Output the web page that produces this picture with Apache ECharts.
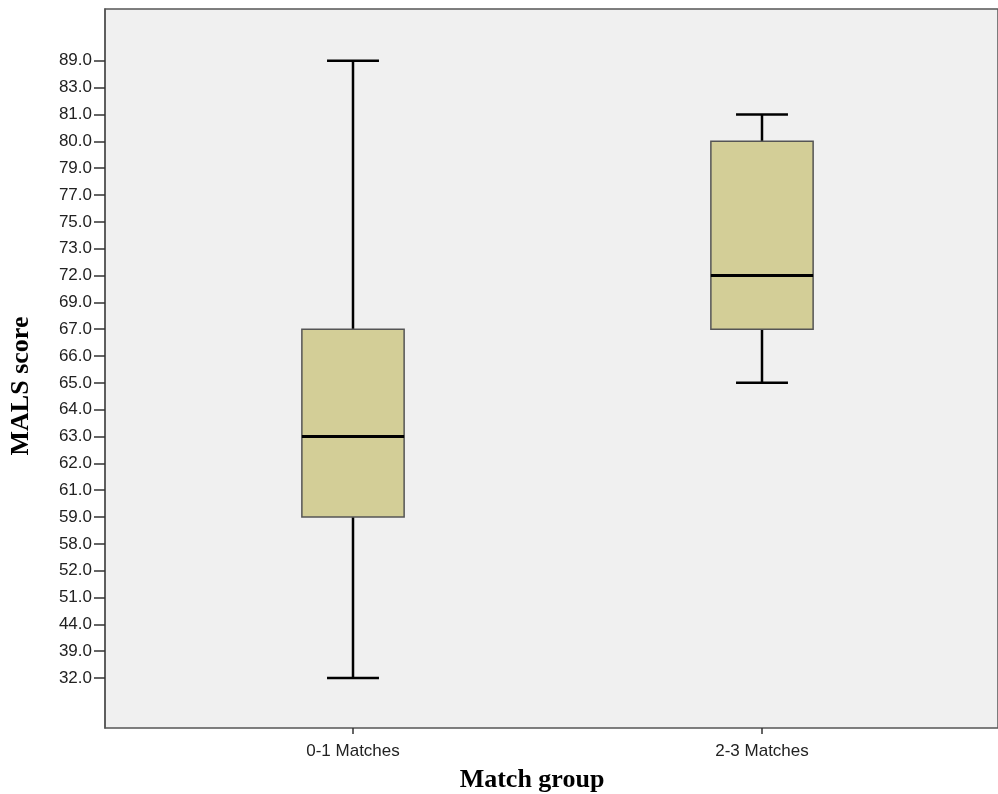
<!DOCTYPE html>
<html><head><meta charset="utf-8">
<script src="https://cdn.jsdelivr.net/npm/echarts@6/dist/echarts.min.js"></script>
<style>html,body{margin:0;padding:0;background:#fff}#c{width:998px;height:794px}</style>
</head><body><div id="c"></div>
<script>
// Ordinal tick labels of the y axis, bottom to top
const yTickValues = [32, 39, 44, 51, 52, 58, 59, 61, 62, 63, 64, 65, 66, 67, 69, 72, 73, 75, 77, 79, 80, 81, 83, 89];
const categories = ['0-1 Matches', '2-3 Matches'];
// [min, Q1, median, Q3, max]
const group01 = [32, 59, 63, 67, 89];
const group23 = [65, 67, 72, 80, 81];
const yTitle = 'MALS score';
const xTitle = 'Match group';

const rank = v => yTickValues.indexOf(v);
const boxData = [group01, group23].map((g, i) => [i].concat(g.map(rank)));

const Y_MIN = -1.86, Y_MAX = 24.93;
const idx = yTickValues.map((_, i) => i);

const chart = echarts.init(document.getElementById('c'));
chart.setOption({
  animation: false,
  grid: [
    {left: 105, top: 9, right: 0, bottom: 66, show: true, backgroundColor: '#f0f0f0', borderColor: '#555', borderWidth: 1.5},
    {left: 148.5, top: 9, width: 818, bottom: 66, show: false}
  ],
  xAxis: [
    {gridIndex: 0, type: 'value', show: false, min: 0, max: 1},
    {gridIndex: 1, type: 'category', data: categories, boundaryGap: true, position: 'bottom',
     axisLine: {show: false, onZero: false},
     axisTick: {show: true, alignWithLabel: true, length: 6, lineStyle: {color: '#333', width: 1.5}},
     axisLabel: {color: '#222', fontSize: 17, fontFamily: 'Liberation Sans, Arial', margin: 15}}
  ],
  yAxis: [
    {gridIndex: 0, type: 'value', min: Y_MIN, max: Y_MAX,
     axisLine: {show: true, lineStyle: {color: '#555', width: 1.5}},
     axisTick: {show: true, customValues: idx, length: 11, lineStyle: {color: '#333', width: 1.5}},
     axisLabel: {customValues: idx, color: '#222', fontSize: 17, fontFamily: 'Liberation Sans, Arial', margin: 13,
       formatter: v => yTickValues[Math.round(v)].toFixed(1)},
     splitLine: {show: false}},
    {gridIndex: 1, type: 'value', min: Y_MIN, max: Y_MAX, show: false, splitLine: {show: false}}
  ],
  series: [{
    type: 'custom', xAxisIndex: 1, yAxisIndex: 1,
    data: boxData,
    encode: {x: 0, y: [1, 2, 3, 4, 5]},
    renderItem: function (params, api) {
      const x = api.value(0);
      const pMin = api.coord([x, api.value(1)]);
      const pQ1 = api.coord([x, api.value(2)]);
      const pMed = api.coord([x, api.value(3)]);
      const pQ3 = api.coord([x, api.value(4)]);
      const pMax = api.coord([x, api.value(5)]);
      const band = api.size([1, 0])[0];
      const bw = band * 0.25, cw = band * 0.127;
      const cx = pMed[0];
      const black = {stroke: '#000', lineWidth: 2.5};
      return {type: 'group', children: [
        {type: 'line', shape: {x1: cx, y1: pMax[1], x2: cx, y2: pQ3[1]}, style: black},
        {type: 'line', shape: {x1: cx, y1: pQ1[1], x2: cx, y2: pMin[1]}, style: black},
        {type: 'line', shape: {x1: cx - cw / 2, y1: pMax[1], x2: cx + cw / 2, y2: pMax[1]}, style: black},
        {type: 'line', shape: {x1: cx - cw / 2, y1: pMin[1], x2: cx + cw / 2, y2: pMin[1]}, style: black},
        {type: 'rect', shape: {x: cx - bw / 2, y: pQ3[1], width: bw, height: pQ1[1] - pQ3[1]},
         style: {fill: '#d3ce97', stroke: '#555', lineWidth: 1.5}},
        {type: 'line', shape: {x1: cx - bw / 2, y1: pMed[1], x2: cx + bw / 2, y2: pMed[1]}, style: {stroke: '#000', lineWidth: 3}}
      ]};
    }
  }],
  graphic: [
    {type: 'text', x: 532, y: 780, style: {text: xTitle, font: 'bold 26px "Liberation Serif", "Times New Roman", serif', fill: '#000', align: 'center', verticalAlign: 'middle'}},
    {type: 'text', x: 21, y: 386, rotation: Math.PI / 2, style: {text: yTitle, font: 'bold 26px "Liberation Serif", "Times New Roman", serif', fill: '#000', align: 'center', verticalAlign: 'middle'}}
  ]
});
</script></body></html>
